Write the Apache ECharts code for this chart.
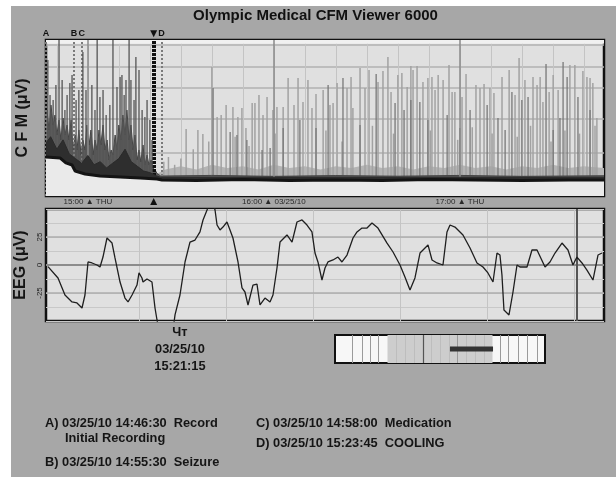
<!DOCTYPE html>
<html><head><meta charset="utf-8">
<script src="https://cdn.jsdelivr.net/npm/echarts@6/dist/echarts.min.js"></script>
<style>
html,body{margin:0;padding:0;background:#a7a7a7;}
#chart{position:absolute;left:0;top:0;width:616px;height:477px;}
.strip{position:absolute;background:#fff;}
</style></head><body>
<div id="chart"></div>
<div class="strip" style="left:0;top:0;width:616px;height:6px"></div>
<div class="strip" style="left:0;top:0;width:11px;height:477px"></div>
<script>
// ---------- DATA ----------
const titleText = 'Olympic Medical CFM Viewer 6000';
// CFM time axis, in minutes of the day (14:46:30 .. 17:46:30)
const cfmRange = [886.5, 1066.5];
const hourMinutes = [900, 960, 1020];
const hourLabels = ['15:00 ▲ THU', '16:00 ▲ 03/25/10', '17:00 ▲ THU'];
const cfmGridLevels = [27.6, 49.4, 69.2, 82.7, 96.8];

// events
const eventNames = ['A', 'B', 'C', 'D'];
const eventMinutes = [886.5, 895.5, 898.0, 923.75];
const eventDates = ['03/25/10', '03/25/10', '03/25/10', '03/25/10'];
const eventClock = ['14:46:30', '14:55:30', '14:58:00', '15:23:45'];
const eventNotes = ['Record', 'Seizure', 'Medication', 'COOLING'];
const eventDetails = ['Initial Recording', '', '', ''];

// cursor
const cursorMinute = 921.25;
const cursorLabel = ['Чт', '03/25/10', '15:21:15'];

// CFM lower margin (minutes, amplitude units)
const cfmLower = [[886.5,25.0],[891.0,24.4],[892.9,21.2],[894.9,19.9],[895.9,16.0],[899.1,14.1],[903.9,12.8],[910.4,12.2],[916.9,11.5],[922.3,10.9],[923.9,10.3],[935,10.0],[950,10.6],[965,9.9],[980,10.3],[995,10.0],[1010,10.6],[1025,10.3],[1040,9.9],[1055,10.3],[1066.5,10.3]];

// CFM upper margin of the dense trace
const cfmUpper = [[886.5,50.0],[886.8,55.1],[887.5,42.3],[888.1,58.3],[888.8,45.5],[889.4,51.9],[890.0,39.1],[890.7,48.7],[891.3,35.9],[892.0,50.0],[892.6,39.1],[893.3,45.5],[893.9,35.9],[894.6,48.7],[895.2,29.5],[895.9,39.1],[896.5,29.5],[897.1,42.3],[897.8,26.3],[898.4,35.9],[899.1,29.5],[899.7,45.5],[900.4,32.7],[901.0,42.3],[901.7,26.3],[902.3,35.9],[903.0,29.5],[903.6,42.3],[904.2,32.7],[904.9,45.5],[905.5,29.5],[906.2,35.9],[906.8,23.1],[907.5,29.5],[908.1,26.3],[908.8,39.1],[909.4,29.5],[910.0,45.5],[910.7,35.9],[911.3,51.9],[912.0,39.1],[912.6,55.1],[913.3,35.9],[913.9,45.5],[914.6,29.5],[915.2,39.1],[915.9,23.1],[916.5,29.5],[917.1,21.8],[917.8,32.7],[918.4,19.9],[919.1,26.3],[919.7,19.9],[920.4,23.1],[921.0,17.9],[921.7,16.7],[922.3,14.5],[923.5,12.8],[940,13.2],[960,12.6],[980,13.1],[1000,12.7],[1020,13.2],[1040,12.6],[1066.5,13.0]];

// darker core of the dense trace, just above the lower margin
const cfmCore = [[886.5,34],[888,38],[890,30],[892,36],[894,27],[896,24],[898,21],[900,26],[902,20],[904,22],[906,18],[908,21],[910,24],[912,30],[914,22],[916,19],[918,16],[920,15],[922,13],[923.5,12],[1066.5,12]];

// speckled band above the baseline
const cfmBand = [[922,14],[925,17],[930,19],[935,17],[940,20],[945,18],[950,19],[955,17],[960,20],[965,18],[970,19],[975,17],[980,19],[985,18],[990,20],[995,18],[1000,19],[1005,17],[1010,19],[1015,18],[1020,20],[1025,18],[1030,19],[1035,17],[1040,19],[1045,18],[1050,20],[1055,18],[1060,19],[1066.5,18]];

// dense dark spikes, first part of recording
const cfmSpikesDense = [[887.1,87.2],[887.8,64.7],[888.8,61.5],[889.7,71.2],[890.7,100],[891.7,74.4],[892.6,55.1],[893.3,64.7],[894.2,72.4],[894.9,77.6],[896.2,61.5],[897.1,67.9],[898.4,92.3],[899.4,67.9],[901.3,71.2],[902.3,55.1],[903.0,100],[903.9,63.5],[904.9,67.9],[905.9,51.9],[907.1,58.3],[908.1,100],[909.4,69.9],[910.4,76.3],[911.0,77.6],[911.7,64.7],[912.3,74.4],[913.3,100],[913.9,74.4],[914.9,61.5],[915.5,89.1],[916.5,80.8],[917.5,55.1],[918.4,50.6],[919.1,61.5],[920.0,48.7],[920.7,35.9]];

// light spikes after cooling
const cfmSpikesLight = [[924.5,22],[926,25],[928,20],[930,24],[931.7,42.9],[934,30],[935.5,42.3],[937.1,39.7],[939,35],[940.0,82.7],[941.7,50.6],[943.0,51.9],[944.6,58.3],[946.8,57.1],[947.5,38],[948.4,50.6],[949.7,56.4],[951.0,43.6],[952,32],[953.0,59.6],[953.9,59.6],[955.2,64.7],[956.5,51.9],[957.8,63.5],[959.7,55.1],[960.4,40],[961.0,57.1],[963.0,57.1],[964.6,75.6],[966.5,58.3],[967.8,75.6],[969.4,60.3],[971.0,74.4],[972.3,56.4],[973.6,65.4],[975.9,67.9],[976.8,42],[978.1,58.3],[979.1,59.6],[980.4,72.4],[982,35],[983.6,69.2],[984.9,76.3],[985.5,56.4],[987.8,82.1],[989.4,69.2],[990.7,80.8],[991.8,45],[993.6,73.1],[995.2,80.1],[996.8,89.1],[997.8,66.7],[998.6,40],[1000.0,77.6],[1001.3,78.8],[1003.0,69.9],[1004.2,83.3],[1004.9,80.8],[1006.2,83.3],[1008.1,73.1],[1009.7,75.6],[1010.5,42],[1011.0,76.3],[1012.0,67.9],[1013.0,77.6],[1014.6,74.4],[1016.5,84.0],[1017.5,66.7],[1018.4,66.7],[1019.3,36],[1020.7,63.5],[1022.0,78.2],[1024,44],[1025.2,71.2],[1026.5,69.2],[1027.8,71.8],[1029.7,69.2],[1030.4,40],[1031.0,66.0],[1033.6,76.3],[1035.9,80.8],[1037.8,64.7],[1038.5,38],[1039.1,88.5],[1041.0,74.4],[1042.8,45],[1043.6,76.3],[1044.9,71.2],[1045.9,76.3],[1046.8,60.3],[1048.8,66.7],[1049.4,35],[1050.1,77.6],[1051.7,67.9],[1053.9,42],[1055.5,84.0],[1057.1,84.0],[1058.6,40],[1059.7,80.1],[1061.0,76.3],[1062.0,75.6],[1062.9,72.4],[1063.6,45],[1064.2,50.0]];

// medium-gray spikes after cooling
const cfmSpikesMid = [[940.4,69.2],[945.9,41.0],[948.1,39.1],[951.3,35.9],[956.2,29.5],[958.8,30.8],[963.0,43.6],[968.4,48.7],[973.6,43.6],[977.5,71.2],[982.3,75.6],[987.8,45.5],[993.0,78.2],[999.1,59.6],[1002.0,55.1],[1004.2,61.5],[1007.1,60.3],[1009.7,48.7],[1015.9,51.9],[1020.0,43.6],[1023.3,55.1],[1028.8,58.3],[1032.3,50.0],[1034.6,42.3],[1036.8,66.7],[1040.0,61.5],[1042.0,63.5],[1047.8,84.6],[1050.1,42.3],[1052.3,50.0],[1053.3,85.9],[1054.6,76.3],[1058.1,63.5],[1062.0,55.1]];

// EEG window (seconds, microvolts)
const eegRange = [0, 6.414];
const eegGridSec = [1.07, 2.07, 3.07, 4.07, 5.07, 6.07];
const eegMarkerSec = 6.103;
const eegLabelSec = 1.54;
const eegTrace = [[0.023,-1.5],[0.138,-11.6],[0.218,-26.8],[0.299,-33.0],[0.356,-33.9],[0.414,-38.4],[0.448,-26.8],[0.483,2.7],[0.529,1.8],[0.586,0],[0.621,-1.8],[0.655,7.1],[0.701,24.1],[0.759,19.6],[0.793,6.3],[0.851,-15.2],[0.908,-29.5],[0.943,-33.0],[0.989,-26.8],[1.046,-17.9],[1.069,-7.1],[1.103,-11.6],[1.115,-15.2],[1.161,-12.5],[1.218,-15.2],[1.253,-38.4],[1.276,-49.1],[1.31,-62],[1.40,-67],[1.46,-58],[1.483,-44.6],[1.540,-26.8],[1.598,2.7],[1.655,20.5],[1.713,22.3],[1.770,29.5],[1.805,40.2],[1.851,49.1],[1.885,58],[1.92,55],[1.943,49.1],[1.966,35.7],[2.000,31.3],[2.034,33.9],[2.080,38.4],[2.115,31.3],[2.149,24.1],[2.207,2.7],[2.253,-20.5],[2.287,-24.1],[2.322,-35.7],[2.379,-17.9],[2.425,-17.0],[2.460,-35.7],[2.517,-29.5],[2.575,-33.0],[2.609,-26.8],[2.655,-2.7],[2.690,20.5],[2.770,26.8],[2.828,20.5],[2.885,38.4],[2.943,40.2],[3.000,35.7],[3.057,29.5],[3.092,10.7],[3.126,2.7],[3.172,-13.4],[3.207,-2.7],[3.241,2.7],[3.299,4.5],[3.356,7.1],[3.402,2.7],[3.460,8.9],[3.529,24.1],[3.575,29.5],[3.632,33.0],[3.690,33.0],[3.747,37.5],[3.816,33.0],[3.920,19.6],[3.989,11.6],[4.069,0],[4.126,-10.7],[4.184,-22.3],[4.241,-11.6],[4.299,10.7],[4.391,17.9],[4.437,4.5],[4.494,1.8],[4.563,0],[4.609,29.5],[4.644,35.7],[4.701,33.9],[4.793,26.8],[4.874,15.2],[4.954,1.8],[5.023,-1.8],[5.080,-7.1],[5.138,-15.2],[5.184,10.7],[5.218,8.9],[5.241,-8.9],[5.264,-40.2],[5.322,-44.6],[5.368,-24.1],[5.414,0],[5.448,-1.8],[5.529,-1.8],[5.586,13.4],[5.644,13.4],[5.736,-1.8],[5.793,2.7],[5.851,10.7],[5.931,19.6],[6.000,13.4],[6.057,0],[6.103,7.1],[6.161,1.8],[6.218,-4.5],[6.287,-13.4],[6.345,8.9],[6.391,10.7]];
const eegLabelTicks = [-25, 0, 25];

// navigator (hours of recording)
const navRange = [0, 12];
const navViewed = [3, 9];
const navWindow = [6.57, 9.03];
const navLinesLight = [0.97, 1.54, 2.0, 2.46, 6.97, 9.43, 9.89, 10.46, 10.97, 11.54];
const navLinesFaint = [3.5, 4.0, 4.5, 5.5, 6.0, 6.5, 7.5, 8.0, 8.5];
const navLinesDark = [5.03];

// ---------- CHART ----------
const FONT = '"Liberation Sans", Arial, sans-serif';
const cfmGridMinutes = [];
for (let m = 890; m <= 1060; m += 10) cfmGridMinutes.push(m);

function spikeSeries(name, data, color, width, z) {
  return {
    name, type: 'custom', xAxisIndex: 0, yAxisIndex: 0, data, z, silent: true, clip: true,
    encode: { x: 0, y: 1 },
    renderItem(params, api) {
      const t = api.value(0), v = api.value(1);
      const p0 = api.coord([t, 0]), p1 = api.coord([t, v]);
      return { type: 'line', shape: { x1: p0[0], y1: p0[1], x2: p1[0], y2: p1[1] },
        style: { stroke: color, lineWidth: width } };
    }
  };
}

const chart = echarts.init(document.getElementById('chart'), null, { renderer: 'canvas' });

const eventMarks = eventNames.map((n, i) => ({
  xAxis: eventMinutes[i],
  label: { formatter: n, position: 'end', distance: 2 },
  lineStyle: { color: '#7a7a7a', width: 2, type: [2, 2] }
}));
eventMarks.push({ xAxis: cursorMinute, label: { formatter: '▼', position: 'end', distance: 0, fontSize: 12 },
  lineStyle: { color: '#111', width: 4, type: [3, 1] } });
eventMarks.push({ xAxis: cursorMinute, label: { formatter: '▲', position: 'start', distance: 0, fontSize: 12 },
  lineStyle: { color: '#111', width: 4, type: [3, 1] } });

const annot = [];
const annotFont = 'bold 12.8px ' + FONT;
const colX = [45, 45, 256, 256];
const rowY = [423, 462, 423, 443];
eventNames.forEach((n, i) => {
  annot.push({ type: 'text', x: colX[i], y: rowY[i],
    style: { text: n + ') ' + eventDates[i] + ' ' + eventClock[i] + '  ' + eventNotes[i],
      font: annotFont, fill: '#151515', verticalAlign: 'middle' } });
  if (eventDetails[i]) {
    annot.push({ type: 'text', x: colX[i] + 20, y: rowY[i] + 15,
      style: { text: eventDetails[i], font: annotFont, fill: '#151515', verticalAlign: 'middle' } });
  }
});
annot.push({ type: 'text', x: 315.5, y: 16,
  style: { text: titleText, font: 'bold 15px ' + FONT, fill: '#111', align: 'center', verticalAlign: 'middle' } });

const option = {
  animation: false,
  backgroundColor: 'transparent',
  textStyle: { fontFamily: FONT },
  graphic: annot,
  grid: [
    { left: 46, top: 40, width: 558, height: 156, show: true, backgroundColor: '#e0e0e0',
      borderColor: '#111', borderWidth: 2.5, outerBoundsMode: 'none' },
    { left: 46, top: 209, width: 558, height: 112, show: true, backgroundColor: '#e0e0e0',
      borderColor: '#111', borderWidth: 2.5, outerBoundsMode: 'none' },
    { left: 335, top: 335, width: 210, height: 28, show: true, backgroundColor: '#f7f7f7',
      borderColor: '#111', borderWidth: 2, outerBoundsMode: 'none' }
  ],
  xAxis: [
    { type: 'value', gridIndex: 0, min: cfmRange[0], max: cfmRange[1],
      axisLine: { show: false },
      axisTick: { show: false, customValues: cfmGridMinutes },
      splitLine: { show: true, lineStyle: { color: '#c4c4c4', width: 1 } },
      axisLabel: { customValues: hourMinutes, margin: 2, fontSize: 8, color: '#2a2a2a',
        formatter: (v) => hourLabels[hourMinutes.indexOf(Math.round(v))] || '' } },
    { type: 'value', gridIndex: 1, min: eegRange[0], max: eegRange[1],
      axisLine: { show: false },
      axisTick: { show: false, customValues: eegGridSec },
      splitLine: { show: true, lineStyle: { color: '#c4c4c4', width: 1 } },
      axisLabel: { customValues: [eegLabelSec], margin: 3, fontSize: 12.8, fontWeight: 'bold',
        color: '#151515', lineHeight: 17, formatter: () => cursorLabel.join('\n') } },
    { type: 'value', gridIndex: 2, min: navRange[0], max: navRange[1], show: false }
  ],
  yAxis: [
    { type: 'value', gridIndex: 0, min: 0, max: 100,
      axisLine: { show: false }, axisLabel: { show: false },
      axisTick: { show: false, customValues: cfmGridLevels },
      splitLine: { show: true, lineStyle: { color: '#b2b2b2', width: 1.5 } },
      name: 'C F M (μV)', nameLocation: 'middle', nameGap: 15, nameRotate: 90,
      nameTextStyle: { fontSize: 16, fontWeight: 'bold', color: '#151515' } },
    { type: 'value', gridIndex: 1, min: -50, max: 50, interval: 12.5,
      axisLine: { show: false }, axisTick: { show: false },
      splitLine: { show: true, lineStyle: { color: '#c8c8c8', width: 1 } },
      axisLabel: { customValues: eegLabelTicks, rotate: 90, fontSize: 8, margin: 2, color: '#222' },
      name: 'EEG (μV)', nameLocation: 'middle', nameGap: 15, nameRotate: 90,
      nameTextStyle: { fontSize: 16, fontWeight: 'bold', color: '#151515' } },
    { type: 'value', gridIndex: 2, min: 0, max: 1, show: false }
  ],
  series: [
    { name: 'band', type: 'line', xAxisIndex: 0, yAxisIndex: 0, data: cfmBand, z: 1,
      showSymbol: false, silent: true, lineStyle: { width: 0 }, areaStyle: { color: '#b4b4b4', opacity: 1 },
      markArea: { silent: true, itemStyle: { color: '#f1f1f1' }, data: [[{ yAxis: 97.6 }, { yAxis: 100 }]] },
      markLine: { silent: true, symbol: ['none', 'none'], label: { show: false },
        lineStyle: { color: '#8a8a8a', width: 1.5, type: 'solid' },
        data: hourMinutes.map(m => ({ xAxis: m })) } },
    spikeSeries('light spikes', cfmSpikesLight, '#a2a2a2', 1.5, 2),
    spikeSeries('mid spikes', cfmSpikesMid, '#787878', 1.3, 3),
    { name: 'upper margin', type: 'line', xAxisIndex: 0, yAxisIndex: 0, data: cfmUpper, z: 4,
      showSymbol: false, silent: true, lineStyle: { color: '#444', width: 1 },
      areaStyle: { color: '#5a5a5a', opacity: 1 } },
    spikeSeries('dense spikes', cfmSpikesDense, '#555555', 1.3, 5),
    { name: 'core', type: 'line', xAxisIndex: 0, yAxisIndex: 0, data: cfmCore, z: 5,
      showSymbol: false, silent: true, lineStyle: { color: '#2a2a2a', width: 1 },
      areaStyle: { color: '#2e2e2e', opacity: 1 } },
    { name: 'lower margin', type: 'line', xAxisIndex: 0, yAxisIndex: 0, data: cfmLower, z: 6,
      showSymbol: false, silent: true, lineStyle: { color: '#141414', width: 3 },
      areaStyle: { color: '#eaeaea', opacity: 1 },
      markLine: { silent: true, symbol: ['none', 'none'],
        label: { show: true, color: '#111', fontSize: 9, fontWeight: 'bold' },
        data: eventMarks } },
    { name: 'EEG', type: 'line', xAxisIndex: 1, yAxisIndex: 1, data: eegTrace, z: 5,
      showSymbol: false, silent: true, clip: true, lineStyle: { color: '#1e1e1e', width: 1.3 },
      markLine: { silent: true, symbol: ['none', 'none'], label: { show: false },
        data: [
          { yAxis: 0, lineStyle: { color: '#8c8c8c', width: 2, type: 'solid' } },
          { yAxis: 25, lineStyle: { color: '#aeaeae', width: 1.5, type: 'solid' } },
          { yAxis: -25, lineStyle: { color: '#aeaeae', width: 1.5, type: 'solid' } },
          { xAxis: eegMarkerSec, lineStyle: { color: '#555', width: 2, type: 'solid' } }
        ] } },
    { name: 'navigator', type: 'line', xAxisIndex: 2, yAxisIndex: 2, z: 5,
      data: [[navWindow[0], 0.5], [navWindow[1], 0.5]], showSymbol: false, silent: true,
      lineStyle: { color: '#333', width: 5 },
      markArea: { silent: true, itemStyle: { color: '#cdcdcd' },
        data: [[{ xAxis: navViewed[0] }, { xAxis: navViewed[1] }]] },
      markLine: { silent: true, symbol: ['none', 'none'], label: { show: false },
        data: navLinesLight.map(x => ({ xAxis: x, lineStyle: { color: '#9a9a9a', width: 1, type: 'solid' } }))
          .concat(navLinesFaint.map(x => ({ xAxis: x, lineStyle: { color: '#bdbdbd', width: 1, type: 'solid' } })))
          .concat(navLinesDark.map(x => ({ xAxis: x, lineStyle: { color: '#555', width: 1.2, type: 'solid' } }))) } }
  ]
};
chart.setOption(option);
</script>
</body></html>
